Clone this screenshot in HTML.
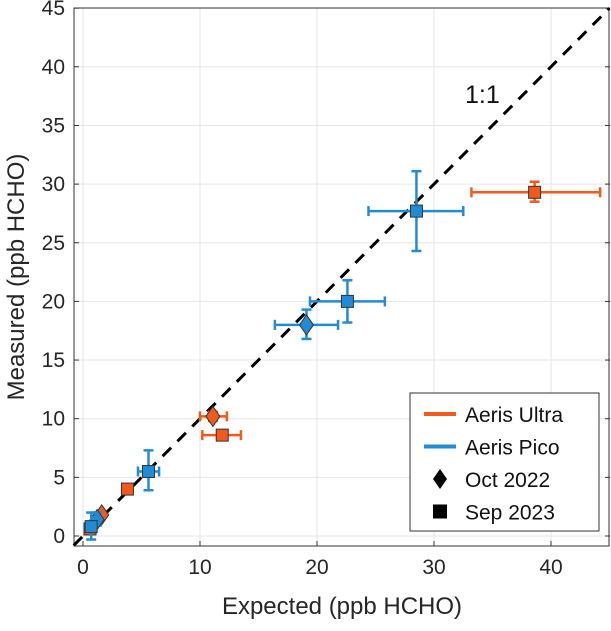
<!DOCTYPE html>
<html><head><meta charset="utf-8"><style>
body{margin:0;background:#fff;font-family:"Liberation Sans",Arial,sans-serif}
</style></head><body>
<svg id="c" width="611" height="626" xmlns="http://www.w3.org/2000/svg"></svg>
<script>
const xTicks=[0,10,20,30,40];
const yTicks=[0,5,10,15,20,25,30,35,40,45];
const series=["ultra","pico","pico","pico","ultra","ultra","pico","ultra","ultra","pico","ultra","pico"];
const markers=["sq","sq","sq","d","d","sq","sq","sq","d","d","sq","sq"];
const xVals=[38.6,28.5,22.6,19.1,11.1,11.9,5.6,3.8,1.6,1.2,0.6,0.7];
const yVals=[29.3,27.7,20.0,18.0,10.2,8.6,5.5,4.0,1.8,1.4,0.6,0.8];
const xLo=[33.2,24.4,19.4,16.4,10.0,10.2,4.7,3.6,1.5,1.1,0.5,0.5];
const xHi=[44.2,32.5,25.8,21.8,12.3,13.5,6.5,4.0,1.7,1.3,0.7,0.9];
const yLo=[28.5,24.3,18.2,16.8,9.8,8.4,3.9,3.7,1.6,0.9,0.4,-0.3];
const yHi=[30.2,31.1,21.8,19.3,10.6,8.8,7.3,4.3,2.0,2.0,0.8,2.0];
const colors={ultra:"#f25a1c",pico:"#228bd6"};
const X=v=>83+11.7*v, Y=v=>536-11.73*v;
const L=74,R=610,T=8,B=546;
const svg=document.getElementById('c');const NS="http://www.w3.org/2000/svg";
function el(t,a,p){const e=document.createElementNS(NS,t);for(const k in a)e.setAttribute(k,a[k]);(p||svg).appendChild(e);return e;}
xTicks.forEach(t=>{const g=el('line',{x1:X(t),x2:X(t),y1:T,y2:B,stroke:'#e6e6e6'});

const tk=el('line',{x1:X(t),x2:X(t),y1:B,y2:B-5,stroke:'#333'});
const tx=el('text',{x:X(t),y:574,'text-anchor':'middle','font-size':21,fill:'#262626'});tx.textContent=t;
});
yTicks.forEach(t=>{const g=el('line',{x1:L,x2:R,y1:Y(t),y2:Y(t),stroke:'#e6e6e6'});

const tk=el('line',{x1:L,x2:L+5,y1:Y(t),y2:Y(t),stroke:'#333'});
const tk2=el('line',{x1:R,x2:R-5,y1:Y(t),y2:Y(t),stroke:'#333'});
const tx=el('text',{x:L-9,y:Y(t)+7,'text-anchor':'end','font-size':21,fill:'#262626'});tx.textContent=t;
});
const box=el('rect',{x:L,y:T,width:R-L-1,height:B-T,fill:'none',stroke:'#333'});

const one=el('line',{x1:X(-0.8),y1:Y(-0.8),x2:X(45),y2:Y(45),stroke:'#000','stroke-width':3,'stroke-dasharray':'12,9'});

const ol=el('text',{x:465,y:103,'font-size':25,fill:'#111'});ol.textContent='1:1';

xVals.forEach((v,i)=>{const c=colors[series[i]];const g=el('g',{});

const cx=X(v),cy=Y(yVals[i]);
el('line',{x1:X(xLo[i]),x2:X(xHi[i]),y1:cy,y2:cy,stroke:c,'stroke-width':2.5},g);
el('line',{x1:X(xLo[i]),x2:X(xLo[i]),y1:cy-5,y2:cy+5,stroke:c,'stroke-width':2.5},g);
el('line',{x1:X(xHi[i]),x2:X(xHi[i]),y1:cy-5,y2:cy+5,stroke:c,'stroke-width':2.5},g);
el('line',{x1:cx,x2:cx,y1:Y(yLo[i]),y2:Y(yHi[i]),stroke:c,'stroke-width':2.5},g);
el('line',{x1:cx-5,x2:cx+5,y1:Y(yLo[i]),y2:Y(yLo[i]),stroke:c,'stroke-width':2.5},g);
el('line',{x1:cx-5,x2:cx+5,y1:Y(yHi[i]),y2:Y(yHi[i]),stroke:c,'stroke-width':2.5},g);
if(markers[i]==='sq')el('rect',{x:cx-6,y:cy-6,width:12,height:12,fill:c,stroke:'#333','stroke-width':1},g);
else el('polygon',{points:`${cx},${cy-10} ${cx+7},${cy} ${cx},${cy+10} ${cx-7},${cy}`,fill:c,stroke:'#333','stroke-width':1},g);});
const xt=el('text',{x:342,y:614,'text-anchor':'middle','font-size':24,fill:'#262626'});xt.textContent='Expected (ppb HCHO)';

const yt=el('text',{x:0,y:0,'text-anchor':'middle','font-size':24,fill:'#262626',transform:'translate(24,277) rotate(-90)'});yt.textContent='Measured (ppb HCHO)';

const lg=el('g',{});
el('rect',{x:410,y:393,width:189,height:138,fill:'#fff',stroke:'#333'},lg);
const ents=[['line',colors.ultra,'Aeris Ultra'],['line',colors.pico,'Aeris Pico'],['d','#000','Oct  2022'],['sq','#000','Sep  2023']];
ents.forEach((e,k)=>{const y=414+k*32.5;const g=el('g',{},lg);

if(e[0]==='line')el('line',{x1:424,x2:456,y1:y,y2:y,stroke:e[1],'stroke-width':4},g);
else if(e[0]==='d')el('polygon',{points:`440,${y-10} 447,${y} 440,${y+10} 433,${y}`,fill:'#000'},g);
else el('rect',{x:433,y:y-7,width:14,height:14,fill:'#000'},g);
const t=el('text',{x:465,y:y+8,'font-size':21,fill:'#111','xml:space':'preserve'},g);t.textContent=e[2];});
</script>
</body></html>
